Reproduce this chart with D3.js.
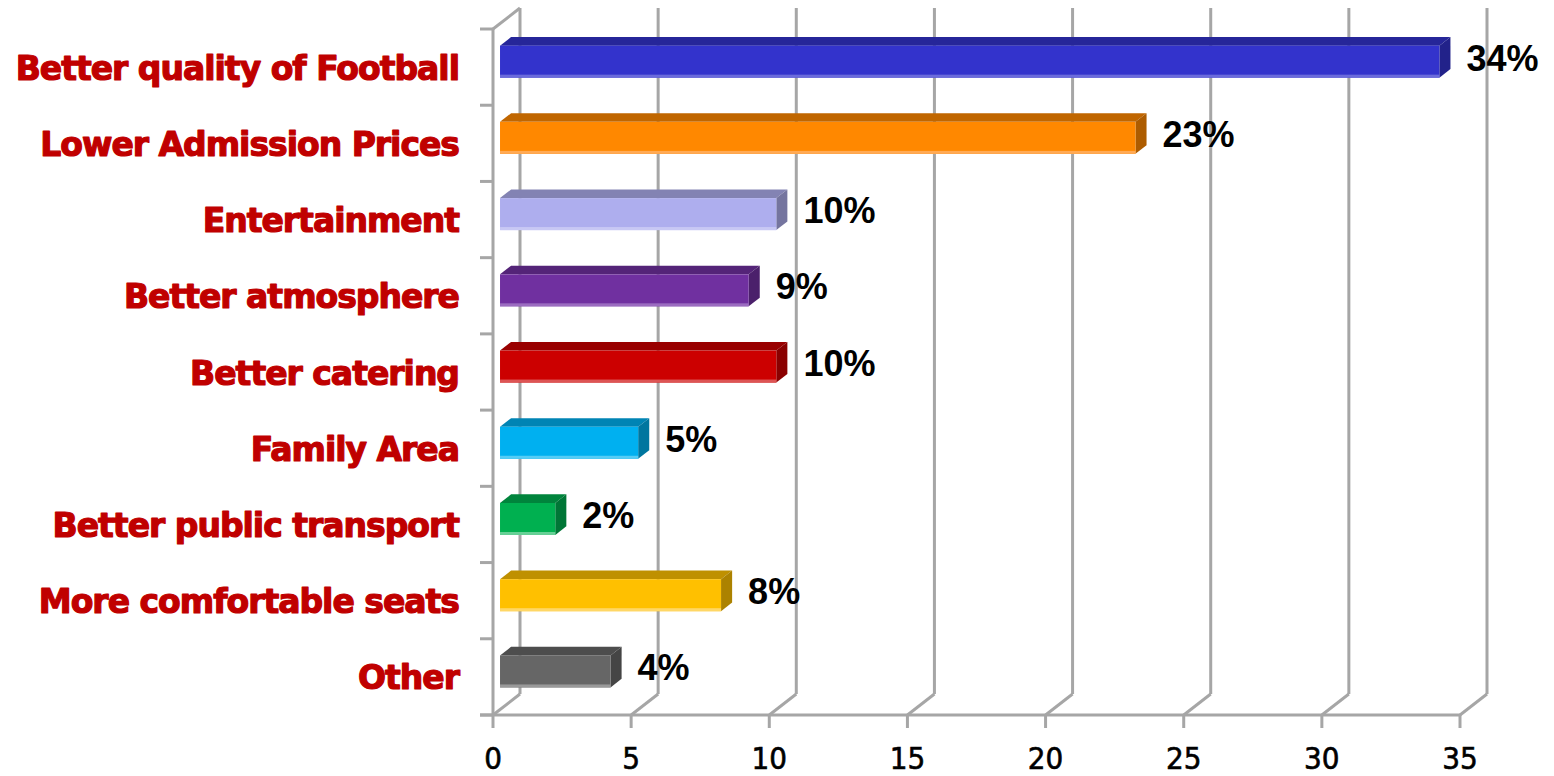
<!DOCTYPE html>
<html>
<head>
<meta charset="utf-8">
<script src="https://cdn.jsdelivr.net/npm/d3@7"></script>
<style>
  html, body { margin: 0; padding: 0; background: #fff; }
  svg { display: block; }
</style>
</head>
<body>
<svg id="chart" width="1554" height="776"></svg>
<script>
// Survey: what would make fans attend more matches (percent of respondents)
const categories = [
  "Better quality of Football",
  "Lower Admission Prices",
  "Entertainment",
  "Better atmosphere",
  "Better catering",
  "Family Area",
  "Better public transport",
  "More comfortable seats",
  "Other"
];
const values = [34, 23, 10, 9, 10, 5, 2, 8, 4];
const valueLabels = ["34%", "23%", "10%", "9%", "10%", "5%", "2%", "8%", "4%"];
const xTicks = [0, 5, 10, 15, 20, 25, 30, 35];

// face colours per bar: front, top, side, lower edge
const frontColors = ["#3333CC", "#FF8800", "#AEAEEE", "#7030A0", "#CC0000", "#00B0F0", "#00B050", "#FFC000", "#666666"];
const topColors   = ["#262699", "#C06600", "#8383B3", "#542478", "#990000", "#0084B4", "#00843C", "#BF9000", "#4D4D4D"];
const sideColors  = ["#22228A", "#AD5C00", "#75759F", "#4B206B", "#8A0000", "#00769F", "#007636", "#AC8200", "#454545"];
const edgeColors  = ["#6B6BDB", "#FFAA55", "#C8C8F4", "#9B6CC0", "#DD5555", "#55CCF5", "#66D095", "#FFD766", "#999999"];

const svg = d3.select("#chart");

// front plane of the plot box
const plotLeft = 493, plotRight = 1460, plotTop = 29, plotBottom = 715;
// perspective offset of the back wall
const depthX = 27, depthY = -21;

const x = d3.scaleLinear().domain([0, 35]).range([plotLeft, plotRight]);
const y = d3.scaleBand().domain(categories).range([plotTop, plotBottom]);

const proj = (v, yy, z) => [x(v) + z * depthX, yy + z * depthY];

const gridColor = "#A6A6A6";
const grid = svg.append("g").attr("fill", "none").attr("stroke", gridColor).attr("stroke-width", 3);

// back-wall vertical gridlines and floor diagonals
xTicks.forEach(t => {
  const b0 = proj(t, plotBottom, 1), b1 = proj(t, plotTop, 1), f0 = proj(t, plotBottom, 0);
  grid.append("line").attr("x1", b0[0]).attr("y1", b0[1]).attr("x2", b1[0]).attr("y2", b1[1]);
  grid.append("line").attr("x1", f0[0]).attr("y1", f0[1]).attr("x2", b0[0]).attr("y2", b0[1]);
});

// left wall: front edge and top diagonal
grid.append("line").attr("x1", x(0)).attr("y1", plotTop).attr("x2", x(0)).attr("y2", plotBottom);
{
  const b1 = proj(0, plotTop, 1);
  grid.append("line").attr("x1", x(0)).attr("y1", plotTop).attr("x2", b1[0]).attr("y2", b1[1]);
}
// floor front edge
grid.append("line").attr("x1", x(0) - 13).attr("y1", plotBottom).attr("x2", plotRight).attr("y2", plotBottom);

// category ticks on the left
const catBounds = categories.map(c => y(c)).concat([plotBottom]);
catBounds.forEach(b => {
  grid.append("line").attr("x1", x(0) - 13).attr("y1", b).attr("x2", x(0)).attr("y2", b);
});
// value ticks along the floor
xTicks.forEach(t => {
  grid.append("line").attr("x1", x(t)).attr("y1", plotBottom).attr("x2", x(t)).attr("y2", plotBottom + 13);
});

// tick labels
svg.append("g").selectAll("text").data(xTicks).join("text")
  .attr("x", d => x(d))
  .attr("y", 769)
  .attr("text-anchor", "middle")
  .attr("font-family", "'DejaVu Sans Condensed', 'DejaVu Sans', sans-serif")
  .attr("font-size", 31)
  .attr("fill", "#000")
  .attr("stroke", "#000")
  .attr("stroke-width", 0.6)
  .text(d => d);

// 3D bars
const z0 = 0.26, z1 = 0.67, barH = 32;
const bars = svg.append("g");
categories.forEach((c, i) => {
  const cy = y(c) + y.bandwidth() / 2;
  const v = values[i];
  const a = proj(0, cy - barH / 2, z0), b = proj(v, cy - barH / 2, z0);
  const cc = proj(v, cy + barH / 2, z0);
  const at = proj(0, cy - barH / 2, z1), bt = proj(v, cy - barH / 2, z1), ct = proj(v, cy + barH / 2, z1);
  const g = bars.append("g");
  // top face
  g.append("path").attr("fill", topColors[i])
    .attr("d", `M${a}L${b}L${bt}L${at}Z`);
  // side face
  g.append("path").attr("fill", sideColors[i])
    .attr("d", `M${b}L${cc}L${ct}L${bt}Z`);
  // front face
  g.append("rect").attr("fill", frontColors[i])
    .attr("x", a[0]).attr("y", a[1]).attr("width", b[0] - a[0]).attr("height", cc[1] - b[1]);
  // soft lower edge highlight
  g.append("rect").attr("fill", edgeColors[i])
    .attr("x", a[0]).attr("y", cc[1] - 3).attr("width", b[0] - a[0]).attr("height", 3);

  // value label
  svg.append("text")
    .attr("x", ct[0] + 16)
    .attr("y", cy - 9)
    .attr("dominant-baseline", "central")
    .attr("font-family", "'Liberation Sans', Arial, sans-serif")
    .attr("font-weight", "bold")
    .attr("font-size", 36)
    .attr("fill", "#000")
    .text(valueLabels[i]);
});

// category labels
svg.append("g").selectAll("text").data(categories).join("text")
  .attr("x", 459)
  .attr("y", d => y(d) + y.bandwidth() / 2 + 12.5)
  .attr("text-anchor", "end")
  .attr("font-family", "'DejaVu Sans', Verdana, sans-serif")
  .attr("font-weight", "bold")
  .attr("font-size", 33)
  .attr("letter-spacing", -1)
  .attr("fill", "#C00000")
  .attr("stroke", "#C00000")
  .attr("stroke-width", 1.2)
  .attr("stroke-linejoin", "round")
  .text(d => d);
</script>
</body>
</html>
